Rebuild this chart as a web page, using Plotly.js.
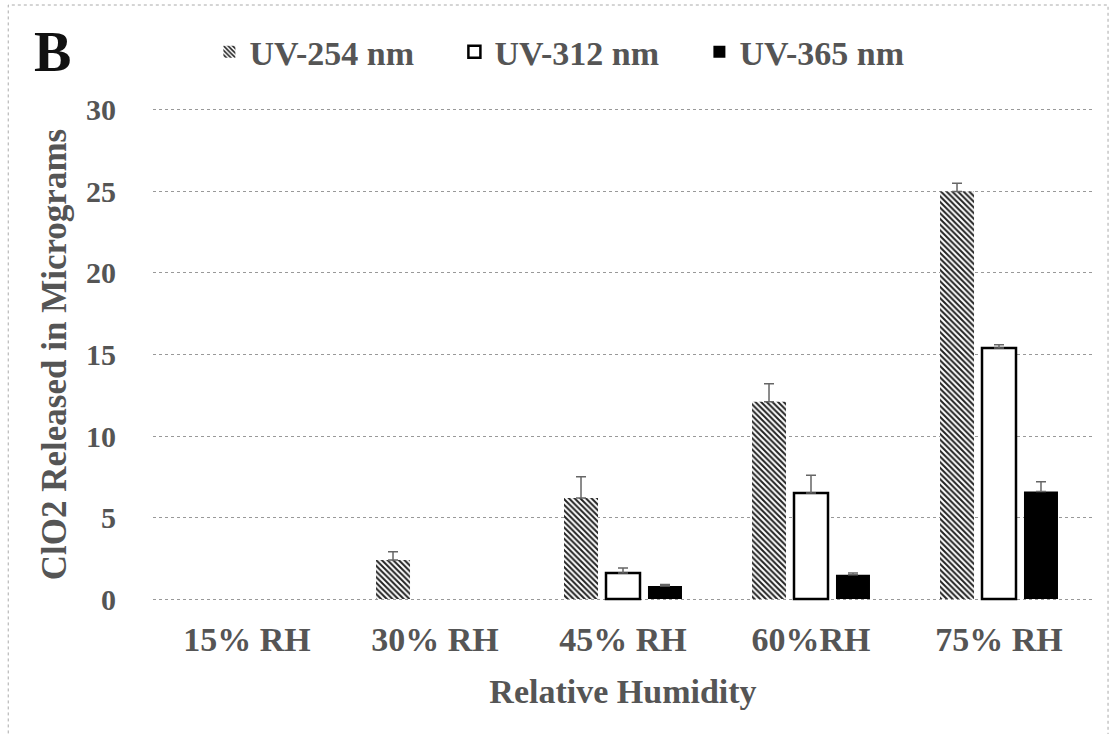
<!DOCTYPE html>
<html>
<head>
<meta charset="utf-8">
<script src="https://cdn.plot.ly/plotly-3.0.1.min.js"></script>
<style>
  html, body { margin: 0; padding: 0; background: #fff; }
  #chart { width: 1114px; height: 734px; }
</style>
</head>
<body>
<div id="chart"></div>
<script>
// Relative humidity groups
const categories = ['15% RH', '30% RH', '45% RH', '60%RH', '75% RH'];

// ClO2 released (micrograms) per UV wavelength
const uv254 = [0, 2.4, 6.2, 12.1, 25.0];
const uv312 = [0, 0, 1.6, 6.5, 15.4];
const uv365 = [0, 0, 0.8, 1.5, 6.6];

// Upper error (standard deviation)
const err254 = [0, 0.5, 1.3, 1.1, 0.5];
const err312 = [0, 0, 0.3, 1.1, 0.2];
const err365 = [0, 0, 0.1, 0.1, 0.6];

const seriesNames = ['UV-254 nm', 'UV-312 nm', 'UV-365 nm'];
const yTicks = [0, 5, 10, 15, 20, 25, 30];

const serif = 'Liberation Serif, Times New Roman, serif';
const textGrey = '#555';

// zero readings leave an empty slot (no bar, no error cap)
function shown(vals) {
  return vals.map(v => (v > 0 ? v : null));
}

// one-sided (upward) error bars
function errUp(arr) {
  return {
    type: 'data',
    symmetric: false,
    array: arr,
    arrayminus: arr.map(() => 0),
    color: '#666',
    thickness: 1.5,
    width: 5
  };
}

const traces = [
  {
    type: 'bar',
    name: seriesNames[0],
    x: categories,
    y: shown(uv254),
    error_y: errUp(err254),
    marker: {
      color: '#ffffff',
      pattern: { shape: '\\', fgcolor: '#222', bgcolor: '#ffffff', size: 4, solidity: 0.5 },
      line: { width: 0 }
    }
  },
  {
    type: 'bar',
    name: seriesNames[1],
    x: categories,
    y: shown(uv312),
    error_y: errUp(err312),
    marker: { color: '#ffffff', line: { color: '#000', width: 2.5 } }
  },
  {
    type: 'bar',
    name: seriesNames[2],
    x: categories,
    y: shown(uv365),
    error_y: errUp(err365),
    marker: { color: '#000000', line: { color: '#000', width: 0 } }
  }
];

const layout = {
  width: 1114,
  height: 734,
  paper_bgcolor: '#ffffff',
  plot_bgcolor: '#ffffff',
  margin: { l: 153, r: 21, t: 105, b: 130, autoexpand: false },
  barmode: 'group',
  bargap: 0.33,
  bargroupgap: 0.19,
  font: { family: serif, color: textGrey },
  showlegend: true,
  legend: {
    orientation: 'h',
    x: 0.06,
    xanchor: 'left',
    y: 1.106,
    yanchor: 'middle',
    font: { family: serif, size: 34, color: textGrey, weight: 'bold' },
    itemwidth: 30,
    entrywidth: 200,
    entrywidthmode: 'pixels',
    bgcolor: 'rgba(0,0,0,0)'
  },
  xaxis: {
    type: 'category',
    tickfont: { family: serif, size: 34, color: textGrey, weight: 'bold' },
    ticklabelstandoff: 12,
    showgrid: false,
    showline: false,
    zeroline: false,
    ticks: '',
    title: {
      text: 'Relative Humidity',
      font: { family: serif, size: 34, color: textGrey, weight: 'bold' },
      standoff: 22
    }
  },
  yaxis: {
    range: [-0.3, 30.3],
    tickmode: 'array',
    tickvals: yTicks,
    ticktext: yTicks.map(String),
    tickfont: { family: serif, size: 30, color: textGrey, weight: 'bold' },
    ticklabelstandoff: 36,
    showgrid: true,
    gridcolor: '#999',
    griddash: 'dot',
    gridwidth: 1,
    zeroline: false,
    showline: false,
    ticks: '',
    title: {
      text: 'ClO2 Released in Micrograms',
      font: { family: serif, size: 35, color: textGrey, weight: 'bold' },
      standoff: 8
    }
  },
  annotations: [
    {
      text: 'B',
      xref: 'paper', yref: 'paper',
      x: -0.107, y: 1.106,
      xanchor: 'center', yanchor: 'middle',
      showarrow: false,
      font: { family: serif, size: 56, color: '#111', weight: 'bold' }
    }
  ],
  shapes: [
    {
      type: 'rect',
      xref: 'paper', yref: 'paper',
      x0: -0.154, x1: 1.016, y0: -0.2725, y1: 1.2004,
      line: { color: '#aaa', width: 1, dash: 'dot' },
      fillcolor: 'rgba(0,0,0,0)',
      layer: 'below'
    }
  ]
};

Plotly.newPlot('chart', traces, layout, { displayModeBar: false, staticPlot: true });
</script>
</body>
</html>
